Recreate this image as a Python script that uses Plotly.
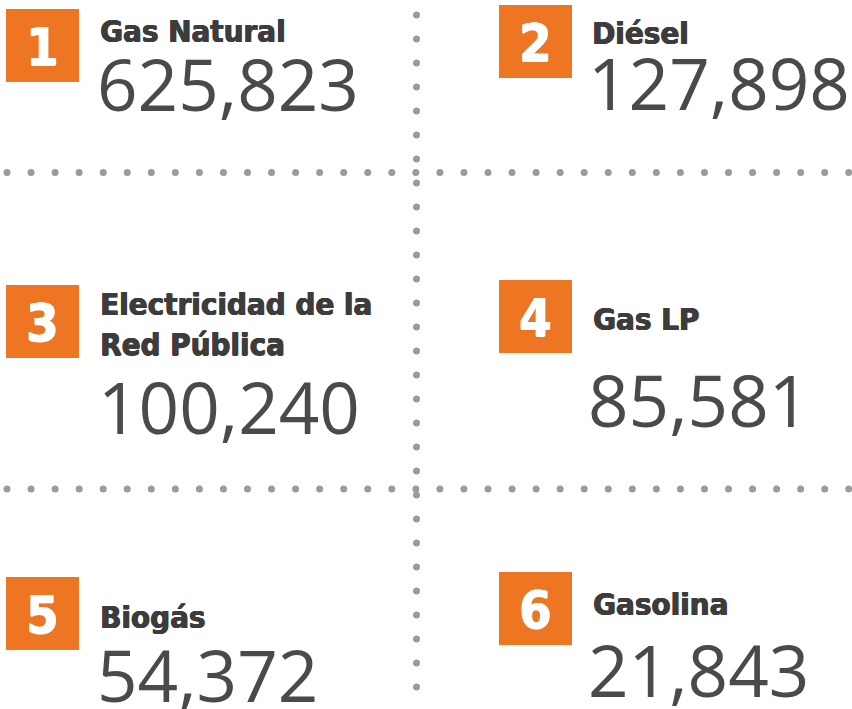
import plotly.graph_objects as go

# ---- data ----
ranks = [1, 2, 3, 4, 5, 6]
categories = ["Gas Natural", "Diésel", "Electricidad de la<br>Red Pública",
              "Gas LP", "Biogás", "Gasolina"]
values = [625823, 127898, 100240, 85581, 54372, 21843]

# ---- layout (positions / styles) ----
W, H = 852, 709
col_x = [6, 499, 6, 499, 6, 499]          # left of orange box
box_top = [9, 5, 285, 280, 577, 572]      # top of orange box
box_size = 73
label_dx = [92, 91, 92, 92, 92, 92]
label_base = [41, 43, 353, 329, 627, 614]  # baseline of last label line
num_base = [109, 108, 432, 425, 700, 695]  # baseline of big number
num_dx = [89, 87, 90, 87, 89, 87]
LH = 39

ORANGE = "#ee7623"
DOT = "#9b9b9b"
LABEL_C = "#3c3c3c"
NUM_C = "#4a4a4a"
HEAVY = "DejaVu Sans Condensed, DejaVu Sans, Lato"
SH_L = "0.7px 0 0 #3c3c3c, -0.3px 0 0 #3c3c3c, 0 0.4px 0 #3c3c3c"
SH_W = "0.8px 0 0 #ffffff, -0.4px 0 0 #ffffff, 0 0.5px 0 #ffffff"

fig = go.Figure()

# dotted separators
step = 24.05
hx = []
hy = []
for yrow in (172.5, 489):
    k = 0
    while 7 + k * step <= 850:
        hx.append(7 + k * step)
        hy.append(yrow)
        k += 1
vx, vy = [], []
k = 0
while 15 + k * 24 <= 690:
    vx.append(416.5)
    vy.append(15 + k * 24)
    k += 1
fig.add_trace(go.Scatter(x=hx + vx, y=hy + vy, mode="markers",
                         marker=dict(size=7, color=DOT, line=dict(width=0)),
                         hoverinfo="skip", showlegend=False, cliponaxis=False))

for i, (r, cat, v) in enumerate(zip(ranks, categories, values)):
    x0, y0 = col_x[i], box_top[i]
    fig.add_shape(type="rect", x0=x0, x1=x0 + box_size, y0=y0, y1=y0 + box_size,
                  fillcolor=ORANGE, line=dict(width=0), layer="below")
    fig.add_annotation(x=x0 + box_size / 2, y=y0 + box_size / 2 + 1, text=str(r),
                       showarrow=False, xanchor="center", yanchor="middle",
                       font=dict(family=HEAVY, size=52, color="white", weight="bold",
                                 shadow=SH_W))
    n = cat.count("<br>") + 1
    fig.add_annotation(x=x0 + label_dx[i], y=label_base[i] - 10 - (n - 1) * LH / 2,
                       text=cat, showarrow=False, xanchor="left", yanchor="middle",
                       align="left",
                       font=dict(family=HEAVY, size=31, color=LABEL_C, weight="bold",
                                 shadow=SH_L))
    fig.add_annotation(x=x0 + num_dx[i], y=num_base[i] - 26, text=f"{v:,}",
                       showarrow=False, xanchor="left", yanchor="middle",
                       font=dict(family="Open Sans", size=71, color=NUM_C))

fig.update_xaxes(range=[0, W], visible=False, fixedrange=True)
fig.update_yaxes(range=[H, 0], visible=False, fixedrange=True)
fig.update_layout(width=W, height=H, margin=dict(l=0, r=0, t=0, b=0),
                  plot_bgcolor="white", paper_bgcolor="white", showlegend=False)
fig.write_html("out.html", config={"displayModeBar": False},
               post_script="document.body.style.margin='0';"
                           "document.body.style.overflow='hidden';")
